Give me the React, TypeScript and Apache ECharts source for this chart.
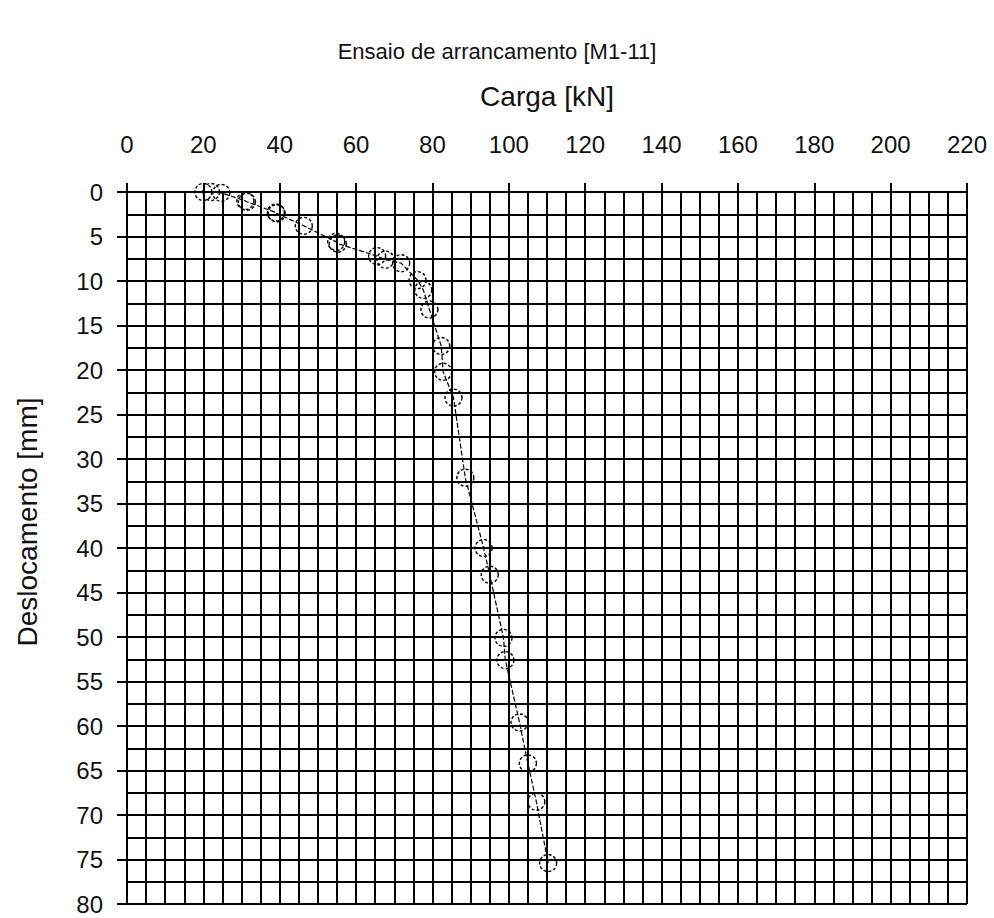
import React, { useEffect, useRef } from "react";
import * as echarts from "echarts";

// Pull-out test: load (kN) vs displacement (mm)
const cargaKN = [
  20.0, 22.0, 24.7, 31.0, 31.4, 39.0, 39.2, 46.3, 54.8, 55.2, 65.5, 67.7, 71.8,
  76.1, 77.6, 79.2, 82.3, 82.8, 85.5, 88.6, 93.4, 95.0, 98.6, 99.1, 102.8,
  105.0, 107.2, 110.3,
];
const deslocamentoMM = [
  0.0, 0.0, 0.1, 1.0, 1.1, 2.3, 2.4, 3.8, 5.6, 5.8, 7.2, 7.6, 8.0, 9.9, 11.0,
  13.2, 17.3, 20.2, 23.1, 32.1, 40.0, 43.0, 50.1, 52.6, 59.6, 64.2, 68.5, 75.4,
];

const xTicks = { min: 0, max: 220, step: 20 };
const yTicks = { min: 0, max: 80, step: 5 };

const FONT = "'Liberation Sans', Arial, sans-serif";
const INK = "#111";
const GRID_W = 2;

export default function App() {
  const ref = useRef<HTMLDivElement>(null);

  useEffect(() => {
    if (!ref.current) return;
    const chart = echarts.init(ref.current, null, { renderer: "svg" });
    const points = cargaKN.map((x, i) => [x, deslocamentoMM[i]]);

    chart.setOption({
      animation: false,
      backgroundColor: "#ffffff",
      title: {
        text: "Ensaio de arrancamento [M1-11]",
        left: "center",
        top: 35,
        textStyle: { fontFamily: FONT, fontSize: 22, fontWeight: "normal", color: INK },
      },
      graphic: [
        {
          type: "text",
          x: 27,
          y: 522,
          rotation: Math.PI / 2,
          style: {
            text: "Deslocamento [mm]",
            fontFamily: FONT,
            fontSize: 28,
            fill: INK,
            align: "center",
            verticalAlign: "middle",
          },
        },
      ],
      grid: { left: 127, top: 192, width: 840, height: 712 },
      xAxis: {
        type: "value",
        position: "top",
        min: xTicks.min,
        max: xTicks.max,
        interval: xTicks.step,
        name: "Carga [kN]",
        nameLocation: "middle",
        nameGap: 82,
        nameTextStyle: { fontFamily: FONT, fontSize: 28, color: INK },
        axisLine: { show: true, lineStyle: { color: "#000", width: GRID_W } },
        axisTick: { show: true, inside: false, length: 9, lineStyle: { color: "#000", width: GRID_W } },
        axisLabel: { fontFamily: FONT, fontSize: 24, color: INK, margin: 36 },
        splitLine: { show: true, lineStyle: { color: "#000", width: GRID_W } },
        minorTick: { show: false, splitNumber: 4 },
        minorSplitLine: { show: true, lineStyle: { color: "#000", width: GRID_W } },
      },
      yAxis: {
        type: "value",
        inverse: true,
        min: yTicks.min,
        max: yTicks.max,
        interval: yTicks.step,
        axisLine: { show: true, lineStyle: { color: "#000", width: GRID_W } },
        axisTick: { show: true, inside: false, length: 10, lineStyle: { color: "#000", width: GRID_W } },
        axisLabel: { fontFamily: FONT, fontSize: 24, color: INK, margin: 24 },
        splitLine: { show: true, lineStyle: { color: "#000", width: GRID_W } },
        minorTick: { show: false, splitNumber: 2 },
        minorSplitLine: { show: true, lineStyle: { color: "#000", width: GRID_W } },
      },
      series: [
        {
          type: "line",
          data: points,
          symbol: "circle",
          symbolSize: 17,
          lineStyle: { color: "#000", width: 1.2, type: [5, 2] },
          itemStyle: {
            color: "rgba(255,255,255,0)",
            borderColor: "#000",
            borderWidth: 1.4,
            borderType: [3, 2],
          },
        },
      ],
    });

    return () => chart.dispose();
  }, []);

  return (
    <div
      ref={ref}
      style={{ position: "fixed", left: 0, top: 0, width: 994, height: 918, background: "#fff" }}
    />
  );
}
